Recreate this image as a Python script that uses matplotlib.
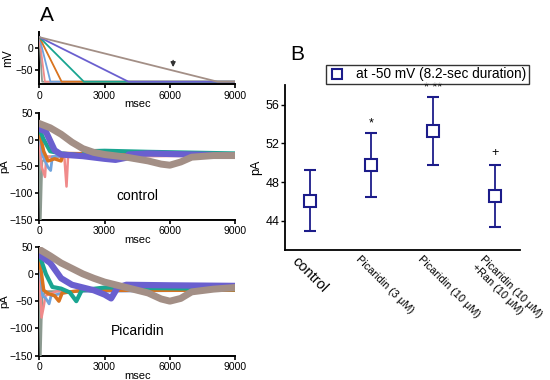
import matplotlib
matplotlib.use("Agg")
import matplotlib.pyplot as plt
import matplotlib.transforms as mtransforms
from matplotlib.lines import Line2D

plt.rcParams['font.family'] = ['Liberation Sans', 'DejaVu Sans']

# ---------------- Panel A data ----------------
ramp_durations = [8200, 4100, 2050, 1025, 512, 256, 128]
ramp_colors = ['#a38f86', '#6a5fcf', '#1aa591', '#d9731e', '#6fa3dd', '#f08a8a', '#8c9a90']
ramp_start_mv = 25
ramp_end_mv = -77
arrow_t = 6150

# control current traces (msec, pA)
ctrl_8200 = [(0, 30), (500, 22), (1000, 10), (1500, -5), (2000, -17), (2500, -24), (3000, -28),
             (4000, -33), (5000, -40), (5600, -46), (6000, -48), (6500, -42), (7000, -33),
             (8000, -30), (9000, -30)]
ctrl_4100 = [(0, 20), (300, 15), (700, -20), (1000, -28), (2000, -31), (3000, -36), (3500, -38),
             (4000, -34), (4100, -28), (5000, -26), (7000, -28), (9000, -30)]
ctrl_2050 = [(0, 20), (200, 0), (500, -22), (1000, -26), (2000, -30), (2100, -22), (3000, -21),
             (5000, -23), (9000, -26)]
ctrl_1025 = [(0, 15), (200, -22), (400, -40), (700, -36), (1000, -40), (1100, -26), (3000, -27),
             (9000, -29)]
ctrl_512 = [(0, 10), (150, -30), (400, -52), (520, -58), (600, -32), (2000, -28), (9000, -30)]
ctrl_256 = [(0, 0), (100, -50), (260, -70), (320, -32), (1150, -32), (1250, -88), (1320, -32),
            (9000, -30)]
ctrl_128 = [(0, -20), (60, -150), (130, -42), (300, -32), (9000, -30)]

# picaridin current traces (msec, pA)
pica_8200 = [(0, 45), (500, 33), (1000, 20), (1500, 10), (2000, 0), (2500, -8), (3000, -15),
             (4000, -25), (5000, -35), (5600, -46), (6000, -50), (6500, -45), (7000, -33),
             (8000, -28), (9000, -25)]
pica_4100 = [(0, 35), (500, 20), (1000, -8), (1500, -20), (2000, -25), (2500, -30), (3000, -38),
             (3300, -45), (3600, -25), (4000, -20), (6000, -21), (9000, -22)]
pica_2050 = [(0, 35), (300, 0), (600, -24), (1000, -27), (1400, -34), (1700, -50), (1950, -30),
             (3000, -25), (9000, -28)]
pica_1025 = [(0, 30), (200, -30), (400, -36), (700, -40), (900, -50), (1050, -35), (2000, -30),
             (9000, -30)]
pica_512 = [(0, 20), (150, -40), (300, -45), (450, -55), (540, -40), (1500, -32), (9000, -30)]
pica_256 = [(0, 10), (100, -80), (200, -60), (280, -40), (800, -32), (9000, -30)]
pica_128 = [(0, -30), (60, -150), (130, -42), (300, -32), (9000, -30)]

ctrl_traces = [ctrl_8200, ctrl_4100, ctrl_2050, ctrl_1025, ctrl_512, ctrl_256, ctrl_128]
pica_traces = [pica_8200, pica_4100, pica_2050, pica_1025, pica_512, pica_256, pica_128]
trace_widths = [5.0, 4.5, 3.0, 2.5, 2.0, 1.8, 1.5]

# ---------------- Panel B data ----------------
categories = ['control', 'Picaridin (3 \u03bcM)', 'Picaridin (10 \u03bcM)',
              'Picaridin (10 \u03bcM)\n+Ran (10 \u03bcM)']
means = [46.1, 49.8, 53.3, 46.6]
errors = [3.1, 3.3, 3.5, 3.2]
sig_labels = ['', '*', '* **', '+']
sig_y = [None, 54.1, 57.7, 51.0]
legend_label = 'at -50 mV (8.2-sec duration)'

navy = '#1c1c8a'

fig = plt.figure(figsize=(5.5, 3.8), dpi=100)

def style_a(ax):
    for s in ['top', 'right']:
        ax.spines[s].set_visible(False)
    for s in ['left', 'bottom']:
        ax.spines[s].set_linewidth(1.4)
    ax.tick_params(direction='out', length=3, width=1.2, labelsize=7.5, pad=1.5)
    ax.set_xlim(0, 9000)
    ax.set_xticks([0, 3000, 6000, 9000])
    ax.set_xlabel('msec', fontsize=8, labelpad=-1)

# Top: voltage ramps
ax1 = fig.add_axes([0.0715, 0.778, 0.356, 0.138])
for i, (d, c) in enumerate(zip(ramp_durations, ramp_colors)):
    ax1.plot([0, d, 9000], [ramp_start_mv, ramp_end_mv, ramp_end_mv], color=c, lw=1.3,
             zorder=10 - i)
ax1.set_ylim(-83, 37)
ax1.set_yticks([0, -50])
ax1.set_ylabel('mV', fontsize=8.5, labelpad=1)
style_a(ax1)
ax1.annotate('', xy=(arrow_t, -50), xytext=(arrow_t, -22),
             arrowprops=dict(arrowstyle='-|>', color='#333333', lw=1, mutation_scale=7))

def draw_traces(ax, traces):
    for i, (tr, c, w) in enumerate(zip(traces, ramp_colors, trace_widths)):
        t = [p[0] for p in tr]
        v = [p[1] for p in tr]
        ax.plot(t, v, color=c, lw=w, zorder=10 - i, solid_joinstyle='round')
    ax.set_ylim(-150, 50)
    ax.set_yticks([50, 0, -50, -100, -150])
    ax.set_ylabel('pA', fontsize=8, labelpad=0)
    style_a(ax)

ax2 = fig.add_axes([0.0715, 0.422, 0.356, 0.281])
draw_traces(ax2, ctrl_traces)
ax2.text(4500, -105, 'control', fontsize=10, ha='center', va='center')

ax3 = fig.add_axes([0.0715, 0.064, 0.356, 0.287])
draw_traces(ax3, pica_traces)
ax3.text(4500, -105, 'Picaridin', fontsize=10, ha='center', va='center')

# Panel B
axb = fig.add_axes([0.518, 0.342, 0.427, 0.434])
x = list(range(len(categories)))
axb.errorbar(x, means, yerr=errors, fmt='s', color=navy, ecolor=navy, elinewidth=1.3,
             capsize=4, capthick=1.3, markersize=8, markerfacecolor='white',
             markeredgecolor=navy, markeredgewidth=1.5, zorder=5)
axb.set_xlim(-0.4, 3.4)
axb.set_ylim(41, 58)
axb.set_yticks([44, 48, 52, 56])
axb.set_xticks(x)
for s in ['top', 'right']:
    axb.spines[s].set_visible(False)
for s in ['left', 'bottom']:
    axb.spines[s].set_linewidth(1.3)
axb.tick_params(axis='y', direction='out', length=3, width=1, labelsize=9, pad=1)
axb.tick_params(axis='x', length=0, pad=3)
axb.set_ylabel('pA', fontsize=9, labelpad=2)
offset = mtransforms.ScaledTranslation(-10 / 100, 0, fig.dpi_scale_trans)
axb.set_xticklabels(categories)
for i, lab in enumerate(axb.get_xticklabels()):
    lab.set_rotation(-45)
    lab.set_ha('left')
    lab.set_va('top')
    lab.set_rotation_mode('anchor')
    lab.set_fontsize(10.5 if i == 0 else 7.8)
    lab.set_transform(lab.get_transform() + offset)
for xi, s, yy in zip(x, sig_labels, sig_y):
    if s:
        axb.text(xi, yy, s, ha='center', va='center', fontsize=9)

h = Line2D([], [], marker='s', linestyle='none', color=navy, markerfacecolor='white',
           markeredgewidth=1.5, markersize=7)
leg = fig.legend([h], [legend_label], loc='center', bbox_to_anchor=(0.778, 0.804),
                 fontsize=9.8, frameon=True, fancybox=False, handlelength=1.2,
                 handletextpad=0.8, borderpad=0.2, borderaxespad=0)
leg.get_frame().set_edgecolor('black')
leg.get_frame().set_linewidth(1.0)

fig.text(0.072, 0.96, 'A', fontsize=15, ha='left', va='center')
fig.text(0.527, 0.856, 'B', fontsize=15, ha='left', va='center')

fig.savefig('out.png', dpi=100)
